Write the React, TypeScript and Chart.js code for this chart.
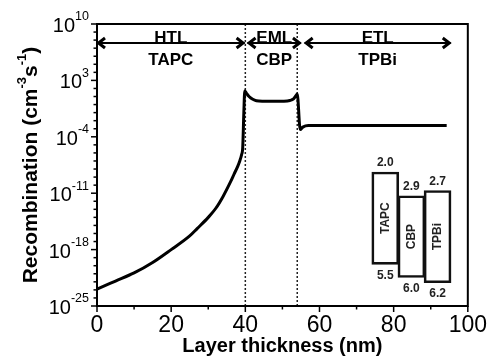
import React, { useEffect, useRef } from 'react';
import { Chart, registerables } from 'chart.js';

Chart.register(...registerables);

const FONT = '"Liberation Sans", Arial, Helvetica, sans-serif';

// Recombination profile (x in nm, rate in cm^-3 s^-1)
const thickness = [0, 5, 10, 15, 20, 25, 27, 30, 32, 34, 36, 37, 38, 38.5, 39, 39.3, 39.6, 39.85, 40.3, 41, 42, 43, 45, 48, 50, 52, 53, 53.6, 54, 54.8, 55.5, 57, 60, 70, 80, 90, 94.3];
const recombination = [1.26e-23, 1.26e-22, 1.26e-21, 2.5e-20, 1e-18, 5e-17, 4e-16, 1e-14, 1.26e-13, 4e-12, 2.5e-10, 2.5e-9, 2.5e-8, 1e-7, 6.3e-7, 5e-6, 0.1, 50, 25, 10, 4.5, 3, 2.6, 2.5, 2.6, 3.2, 5, 12, 20, 8e-4, 1.6e-3, 2.5e-3, 2.5e-3, 2.5e-3, 2.5e-3, 2.5e-3, 2.5e-3];

// Layer regions
const layerNames = ['HTL', 'EML', 'ETL'];
const layerMaterials = ['TAPC', 'CBP', 'TPBi'];
const layerStart = [0, 40.6, 56];
const layerEnd = [39.8, 55, 95.4];
const interfaces = [40, 54];

// Energy level inset (eV)
const insetMaterials = ['TAPC', 'CBP', 'TPBi'];
const lumo = [2.0, 2.9, 2.7];
const homo = [5.5, 6.0, 6.2];

// Axis ticks
const yTickExponents = [10, 3, -4, -11, -18, -25];
const xMin = 0;
const xMax = 100;
const yMinExp = -25;
const yMaxExp = 10;

function drawArrow(ctx: CanvasRenderingContext2D, x1: number, x2: number, y: number) {
  ctx.lineWidth = 2;
  ctx.beginPath();
  ctx.moveTo(x1, y);
  ctx.lineTo(x2, y);
  ctx.stroke();
  ctx.lineWidth = 3;
  ctx.lineJoin = 'miter';
  ctx.beginPath();
  ctx.moveTo(x1 + 8, y - 5);
  ctx.lineTo(x1 + 1.5, y);
  ctx.lineTo(x1 + 8, y + 5);
  ctx.stroke();
  ctx.beginPath();
  ctx.moveTo(x2 - 8, y - 5);
  ctx.lineTo(x2 - 1.5, y);
  ctx.lineTo(x2 - 8, y + 5);
  ctx.stroke();
}

const decorPlugin = {
  id: 'decor',
  afterDraw(chart: any) {
    const { ctx, chartArea: ca, scales } = chart;
    const xs = scales.x;
    const ys = scales.y;
    ctx.save();
    ctx.strokeStyle = '#000';
    ctx.fillStyle = '#000';

    // frame
    ctx.lineWidth = 2;
    ctx.strokeRect(ca.left, ca.top, ca.right - ca.left, ca.bottom - ca.top);

    // x tick marks
    ctx.lineWidth = 1.5;
    for (let v = xMin; v <= xMax; v += 10) {
      const px = xs.getPixelForValue(v);
      const len = v % 20 === 0 ? 6 : 3.5;
      ctx.beginPath();
      ctx.moveTo(px, ca.bottom);
      ctx.lineTo(px, ca.bottom + len);
      ctx.stroke();
    }
    // y tick marks
    for (let e = yMinExp; e <= yMaxExp; e++) {
      const py = ys.getPixelForValue(Math.pow(10, e));
      const major = yTickExponents.includes(e);
      const len = major ? 6 : 3.5;
      ctx.beginPath();
      ctx.moveTo(ca.left - len, py);
      ctx.lineTo(ca.left, py);
      ctx.stroke();
    }

    // y tick labels 10^n
    ctx.textBaseline = 'middle';
    for (const e of yTickExponents) {
      const py = ys.getPixelForValue(Math.pow(10, e));
      const expText = String(e);
      ctx.font = `12.5px ${FONT}`;
      const ew = ctx.measureText(expText).width;
      const right = 89;
      ctx.textAlign = 'left';
      ctx.fillText(expText, right - ew, py - 7);
      ctx.font = `20px ${FONT}`;
      ctx.textAlign = 'right';
      ctx.fillText('10', right - ew, py + 2.5);
    }

    // y axis title with superscripts
    const segs: [string, boolean][] = [['Recombination (cm', false], ['-3', true], ['s', false], ['-1', true], [')', false]];
    const mainFont = `bold 21px ${FONT}`;
    const supFont = `bold 13px ${FONT}`;
    let total = 0;
    for (const [t, sup] of segs) {
      ctx.font = sup ? supFont : mainFont;
      total += ctx.measureText(t).width;
    }
    ctx.save();
    ctx.translate(29, (ca.top + ca.bottom) / 2);
    ctx.rotate(-Math.PI / 2);
    ctx.textAlign = 'left';
    ctx.textBaseline = 'alphabetic';
    let cx = -total / 2;
    for (const [t, sup] of segs) {
      ctx.font = sup ? supFont : mainFont;
      ctx.fillText(t, cx, sup ? -3 : 7.5);
      cx += ctx.measureText(t).width;
    }
    ctx.restore();

    // layer annotations
    const arrowY = ca.top + 19;
    for (let i = 0; i < layerNames.length; i++) {
      const x1 = xs.getPixelForValue(layerStart[i]);
      const x2 = xs.getPixelForValue(layerEnd[i]);
      drawArrow(ctx, x1, x2, arrowY);
      const mid = (x1 + x2) / 2;
      ctx.font = `bold 17px ${FONT}`;
      ctx.textAlign = 'center';
      ctx.textBaseline = 'alphabetic';
      ctx.fillText(layerNames[i], mid, arrowY);
      ctx.fillText(layerMaterials[i], mid, arrowY + 22);
    }

    // inset labels
    const meta = chart.getDatasetMeta(3);
    meta.data.forEach((el: any, i: number) => {
      const top = Math.min(el.y, el.base);
      const bot = Math.max(el.y, el.base);
      ctx.fillStyle = '#222';
      ctx.font = `bold 12px ${FONT}`;
      ctx.textAlign = 'center';
      ctx.textBaseline = 'middle';
      ctx.fillText(lumo[i].toFixed(1), el.x, top - 9);
      ctx.fillText(homo[i].toFixed(1), el.x, bot + 11);
      ctx.save();
      ctx.translate(el.x, (top + bot) / 2);
      ctx.rotate(-Math.PI / 2);
      ctx.fillText(insetMaterials[i], 0, 0);
      ctx.restore();
    });

    ctx.restore();
  },
};

export default function App() {
  const canvasRef = useRef<HTMLCanvasElement | null>(null);

  useEffect(() => {
    const canvas = canvasRef.current;
    if (!canvas) return;
    const chart = new Chart(canvas, {
      type: 'line',
      data: {
        datasets: [
          {
            data: thickness.map((t, i) => ({ x: t, y: recombination[i] })),
            borderColor: '#000',
            borderWidth: 3,
            pointRadius: 0,
            cubicInterpolationMode: 'monotone',
            xAxisID: 'x',
            yAxisID: 'y',
          } as any,
          {
            data: [{ x: interfaces[0], y: Math.pow(10, yMinExp) }, { x: interfaces[0], y: Math.pow(10, yMaxExp) }],
            borderColor: '#222',
            borderWidth: 1.5,
            borderDash: [2, 2],
            pointRadius: 0,
            xAxisID: 'x',
            yAxisID: 'y',
          },
          {
            data: [{ x: interfaces[1], y: Math.pow(10, yMinExp) }, { x: interfaces[1], y: Math.pow(10, yMaxExp) }],
            borderColor: '#222',
            borderWidth: 1.5,
            borderDash: [2, 2],
            pointRadius: 0,
            xAxisID: 'x',
            yAxisID: 'y',
          },
          {
            type: 'bar',
            data: insetMaterials.map((_, i) => ({ x: i, y: [lumo[i], homo[i]] })),
            backgroundColor: 'rgba(255,255,255,0)',
            borderColor: '#111',
            borderWidth: 2,
            borderSkipped: false,
            barThickness: 27,
            xAxisID: 'x2',
            yAxisID: 'y2',
          } as any,
        ],
      },
      options: {
        responsive: false,
        animation: false,
        devicePixelRatio: 1,
        layout: { padding: { left: 0, top: 24, right: 19, bottom: 0 } },
        plugins: {
          legend: { display: false },
          tooltip: { enabled: false },
        },
        scales: {
          x: {
            type: 'linear',
            position: 'bottom',
            min: xMin,
            max: xMax,
            border: { display: true, width: 2, color: '#000' },
            grid: { display: false, drawTicks: false },
            ticks: { stepSize: 20, padding: 6, color: '#000', font: { size: 23, family: FONT } },
            title: {
              display: true,
              text: 'Layer thickness (nm)',
              color: '#000',
              font: { size: 20, weight: 'bold', family: FONT },
              padding: 0,
            },
            afterFit: (s: any) => {
              s.height = 52;
            },
          },
          y: {
            type: 'logarithmic',
            position: 'left',
            min: Math.pow(10, yMinExp),
            max: Math.pow(10, yMaxExp),
            border: { display: true, width: 2, color: '#000' },
            grid: { display: false, drawTicks: false },
            ticks: { display: false },
            afterFit: (s: any) => {
              s.width = 97;
            },
          },
          x2: { type: 'linear', position: 'bottom', min: -9.5, max: 2.661, display: false },
          y2: { type: 'linear', position: 'left', min: -3.61, max: 7.08, reverse: true, display: false },
        },
      } as any,
      plugins: [decorPlugin],
    });
    return () => chart.destroy();
  }, []);

  return (
    <div style={{ position: 'fixed', left: 0, top: 0, width: 493, height: 358, background: '#fff' }}>
      <canvas ref={canvasRef} width={493} height={358} style={{ width: 493, height: 358, display: 'block' }} />
    </div>
  );
}
